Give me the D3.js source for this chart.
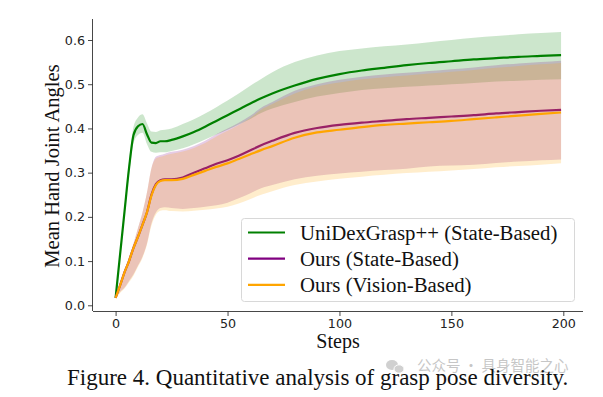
<!DOCTYPE html>
<html>
<head>
<meta charset="utf-8">
<script src="https://cdn.jsdelivr.net/npm/d3@7"></script>
<style>
  body { margin: 0; background: #fff; }
  svg { display: block; }
  .tick text { font-family: 'DejaVu Sans', sans-serif; font-size: 12.7px; fill: #222; }
  .serif { font-family: 'Liberation Serif', 'Times New Roman', serif; fill: #111; }
</style>
</head>
<body>
<div id="vis"></div>
<script>
'use strict'

const steps = [0, 2, 4, 6, 8, 10, 12, 14, 16, 18, 20, 22, 25, 30, 35, 40, 45, 50, 55, 60, 65, 70,
  80, 90, 100, 110, 120, 130, 140, 150, 160, 170, 180, 190, 199]

const uniMean = [0.017, 0.115, 0.213, 0.31, 0.385, 0.405, 0.41, 0.387, 0.368, 0.367, 0.371, 0.371, 0.374,
  0.382, 0.392, 0.404, 0.417, 0.43, 0.443, 0.456, 0.468, 0.479, 0.497, 0.512, 0.523, 0.531, 0.537,
  0.543, 0.548, 0.552, 0.556, 0.559, 0.562, 0.564, 0.566]
const uniUpper = [0.018, 0.122, 0.224, 0.326, 0.404, 0.425, 0.432, 0.412, 0.393, 0.392, 0.396, 0.397, 0.4,
  0.41, 0.421, 0.434, 0.448, 0.463, 0.479, 0.496, 0.512, 0.527, 0.55, 0.565, 0.575, 0.581, 0.586,
  0.59, 0.595, 0.6, 0.605, 0.609, 0.613, 0.616, 0.618]
const uniLower = [0.016, 0.108, 0.204, 0.295, 0.367, 0.385, 0.39, 0.365, 0.347, 0.345, 0.346, 0.346, 0.349,
  0.355, 0.364, 0.375, 0.386, 0.397, 0.409, 0.421, 0.435, 0.445, 0.46, 0.472, 0.48, 0.487, 0.491,
  0.494, 0.497, 0.5, 0.503, 0.506, 0.508, 0.51, 0.511]

const stateMean = [0.017, 0.045, 0.075, 0.1, 0.13, 0.155, 0.182, 0.21, 0.25, 0.274, 0.283, 0.285, 0.285,
  0.289, 0.3, 0.31, 0.32, 0.328, 0.338, 0.35, 0.362, 0.372, 0.39, 0.401, 0.408, 0.413, 0.417,
  0.421, 0.424, 0.427, 0.43, 0.434, 0.437, 0.44, 0.442]
const stateUpper = [0.018, 0.05, 0.08, 0.11, 0.14, 0.175, 0.21, 0.255, 0.31, 0.336, 0.34, 0.343, 0.347,
  0.352, 0.36, 0.372, 0.387, 0.4, 0.413, 0.428, 0.447, 0.46, 0.485, 0.5, 0.51, 0.517, 0.522,
  0.526, 0.53, 0.534, 0.538, 0.543, 0.547, 0.55, 0.553]
const stateLower = [0.016, 0.03, 0.04, 0.055, 0.07, 0.09, 0.11, 0.14, 0.185, 0.21, 0.22, 0.222, 0.22,
  0.218, 0.22, 0.223, 0.226, 0.232, 0.242, 0.253, 0.265, 0.272, 0.285, 0.293, 0.298, 0.302, 0.306,
  0.309, 0.314, 0.316, 0.318, 0.322, 0.325, 0.328, 0.33]

const visionMean = [0.017, 0.045, 0.075, 0.1, 0.13, 0.155, 0.182, 0.21, 0.248, 0.272, 0.281, 0.283, 0.283,
  0.286, 0.295, 0.304, 0.313, 0.321, 0.331, 0.341, 0.351, 0.36, 0.379, 0.391, 0.397, 0.403, 0.408,
  0.411, 0.414, 0.417, 0.421, 0.425, 0.429, 0.433, 0.436]
const visionUpper = [0.018, 0.05, 0.08, 0.11, 0.14, 0.175, 0.21, 0.255, 0.31, 0.332, 0.336, 0.339, 0.343,
  0.348, 0.356, 0.367, 0.382, 0.395, 0.408, 0.423, 0.442, 0.455, 0.479, 0.495, 0.504, 0.511, 0.516,
  0.52, 0.524, 0.528, 0.532, 0.537, 0.541, 0.545, 0.548]
const visionLower = [0.015, 0.028, 0.038, 0.052, 0.067, 0.087, 0.107, 0.137, 0.18, 0.205, 0.214, 0.215, 0.213,
  0.212, 0.214, 0.216, 0.219, 0.223, 0.23, 0.24, 0.25, 0.258, 0.272, 0.28, 0.286, 0.291, 0.295,
  0.299, 0.302, 0.305, 0.308, 0.312, 0.315, 0.318, 0.321]

const seriesNames = ['UniDexGrasp++ (State-Based)', 'Ours (State-Based)', 'Ours (Vision-Based)']
const seriesColors = ['green', 'purple', 'orange']
const xTicks = [0, 50, 100, 150, 200]
const yTicks = [0.0, 0.1, 0.2, 0.3, 0.4, 0.5, 0.6]

const series = [
  { name: seriesNames[0], color: seriesColors[0], mean: uniMean, upper: uniUpper, lower: uniLower }
, { name: seriesNames[1], color: seriesColors[1], mean: stateMean, upper: stateUpper, lower: stateLower }
, { name: seriesNames[2], color: seriesColors[2], mean: visionMean, upper: visionUpper, lower: visionLower }
]

//
// CHART CONFIG
//

const totalWidth = 603
const totalHeight = 397
const plot = { left: 93, right: 583, top: 19, bottom: 311 }

const x = d3.scaleLinear()
  .domain([-10.1, 208.8])
  .range([plot.left, plot.right])

const y = d3.scaleLinear()
  .domain([-0.0129, 0.6475])
  .range([plot.bottom, plot.top])

const svg = d3.select('div#vis')
  .append('svg')
    .attr('width', totalWidth)
    .attr('height', totalHeight)

//
// BANDS & LINES
//

const area = d3.area()
  .x(d => x(d.step))
  .y0(d => y(d.lo))
  .y1(d => y(d.hi))
  .curve(d3.curveMonotoneX)

const line = d3.line()
  .x(d => x(d.step))
  .y(d => y(d.v))
  .curve(d3.curveMonotoneX)

series.forEach(s => {

  const rows = steps.map((step, i) => ({ step: step, v: s.mean[i], lo: s.lower[i], hi: s.upper[i] }))

  svg.append('path')
    .datum(rows)
    .attr('d', area)
    .attr('fill', s.color)
    .attr('fill-opacity', 0.2)

  svg.append('path')
    .datum(rows)
    .attr('d', line)
    .attr('fill', 'none')
    .attr('stroke', s.color)
    .attr('stroke-width', 2.2)

})

//
// AXES
//

const xAxis = d3.axisBottom(x)
  .tickValues(xTicks)
  .tickSize(5)
  .tickPadding(3)
  .tickFormat(d3.format('d'))

svg.append('g')
  .attr('transform', 'translate(0,' + plot.bottom + ')')
  .call(xAxis)
  .call(g => g.select('.domain').attr('d', 'M' + plot.left + ',0.5H' + plot.right))

const yAxis = d3.axisLeft(y)
  .tickValues(yTicks)
  .tickSize(5)
  .tickPadding(3)
  .tickFormat(d3.format('.1f'))

svg.append('g')
  .attr('transform', 'translate(' + plot.left + ',0)')
  .call(yAxis)
  .call(g => g.select('.domain').attr('d', 'M-0.5,' + plot.bottom + 'V' + plot.top))

svg.selectAll('.domain, .tick line')
  .attr('stroke', '#333')
  .attr('stroke-width', 0.9)

svg.append('text')
  .classed('serif', true)
  .attr('x', (plot.left + plot.right) / 2)
  .attr('y', 348)
  .attr('text-anchor', 'middle')
  .style('font-size', '20px')
  .text('Steps')

svg.append('text')
  .classed('serif', true)
  .attr('transform', 'translate(59,' + ((plot.top + plot.bottom) / 2 + 1) + ') rotate(-90)')
  .attr('text-anchor', 'middle')
  .style('font-size', '20.5px')
  .text('Mean Hand Joint Angles')

//
// LEGEND
//

const legend = svg.append('g')
  .attr('transform', 'translate(241.5,218.5)')

legend.append('rect')
  .attr('width', 333)
  .attr('height', 83)
  .attr('rx', 3)
  .attr('fill', '#fff')
  .attr('fill-opacity', 0.8)
  .attr('stroke', '#d8d8d8')

const entries = legend.selectAll('g.entry')
  .data(series)
  .join('g')
    .classed('entry', true)
    .attr('transform', (d, i) => 'translate(0,' + (14 + i * 26.2) + ')')

entries.append('line')
  .attr('x1', 6.5)
  .attr('x2', 43.5)
  .attr('stroke', d => d.color)
  .attr('stroke-width', 2.2)

entries.append('text')
  .classed('serif', true)
  .attr('x', 58.5)
  .attr('y', 7)
  .style('font-size', '20.8px')
  .text(d => d.name)

//
// CAPTION & WATERMARK
//

const mark = svg.append('g')
  .attr('opacity', 0.55)

mark.append('ellipse')
  .attr('cx', 392).attr('cy', 365).attr('rx', 6).attr('ry', 5)
  .attr('fill', '#aaa')
mark.append('ellipse')
  .attr('cx', 399).attr('cy', 369).attr('rx', 5).attr('ry', 4.2)
  .attr('fill', '#aaa').attr('stroke', '#fff').attr('stroke-width', 1)

mark.append('text')
  .attr('x', 417)
  .attr('y', 371)
  .style('font-family', "'Noto Sans CJK SC', sans-serif")
  .style('font-size', '14.5px')
  .attr('fill', '#999')
  .text('公众号 · 具身智能之心')

svg.append('text')
  .classed('serif', true)
  .attr('x', 67)
  .attr('y', 385)
  .style('font-size', '23px')
  .text('Figure 4. Quantitative analysis of grasp pose diversity.')

</script>
</body>
</html>
